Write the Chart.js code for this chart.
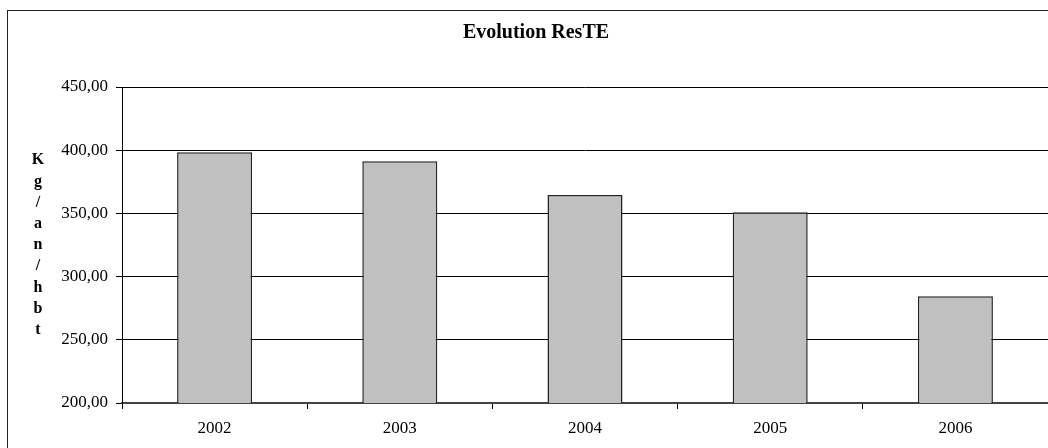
<!DOCTYPE html>
<html>
<head>
<meta charset="utf-8">
<script src="https://cdn.jsdelivr.net/npm/chart.js@4"></script>
<style>
  html, body { margin: 0; padding: 0; background: #fff; overflow: hidden; }
  #wrap { position: relative; width: 1048px; height: 448px; overflow: hidden; }
  #frame { position: absolute; left: 7px; top: 10px; width: 1100px; height: 500px; border: 1.5px solid #222; }
  canvas { position: absolute; left: 0; top: 0; }
</style>
</head>
<body>
<div id="wrap">
  <div id="frame"></div>
  <canvas id="chart" width="1048" height="448"></canvas>
</div>
<script>
const years = ['2002', '2003', '2004', '2005', '2006'];
const resteValues = [398.3, 391.2, 364.6, 350.9, 284.5];
const chartTitle = 'Evolution ResTE';
const yAxisLetters = ['K', 'g', '/', 'a', 'n', '/', 'h', 'b', 't'];
const yMin = 200, yMax = 450, yStep = 50;

const serif = '"Liberation Serif", "Times New Roman", serif';

// the original frame runs past the right edge, so the title sits right of the canvas centre;
// drawn here along with the stacked Excel-style axis title
const excelTexts = {
  id: 'excelTexts',
  afterDraw(chart) {
    const { ctx, chartArea } = chart;
    ctx.save();
    ctx.fillStyle = '#000';
    ctx.textAlign = 'center';
    ctx.textBaseline = 'middle';

    ctx.font = 'bold 20px ' + serif;
    ctx.fillText(chartTitle, 536, 33);

    const step = 21.2;
    const mid = (chartArea.top + chartArea.bottom) / 2;
    const start = mid - step * (yAxisLetters.length - 1) / 2;
    ctx.font = 'bold 16px ' + serif;
    yAxisLetters.forEach((ch, i) => ctx.fillText(ch, 38, start + i * step));
    ctx.restore();
  }
};

new Chart(document.getElementById('chart'), {
  type: 'bar',
  data: {
    labels: years,
    datasets: [{
      data: resteValues,
      backgroundColor: '#C0C0C0',
      borderColor: '#222',
      borderWidth: 1.5,
      borderSkipped: false,
      barPercentage: 0.405,
      categoryPercentage: 1
    }]
  },
  options: {
    responsive: false,
    animation: false,
    layout: { padding: { left: 0, right: 0, top: 87, bottom: 0 } },
    plugins: {
      legend: { display: false },
      tooltip: { enabled: false },
      title: { display: false }
    },
    scales: {
      x: {
        afterFit: (s) => { s.height = 45; },
        grid: { offset: true, drawOnChartArea: false, tickLength: 6, color: '#000' },
        border: { color: '#444', width: 2 },
        ticks: { color: '#000', padding: 9, font: { family: serif, size: 17 } }
      },
      y: {
        min: yMin,
        max: yMax,
        afterFit: (s) => { s.width = 122; },
        grid: { color: '#000', lineWidth: 1, tickLength: 6 },
        border: { color: '#000', width: 1 },
        ticks: {
          stepSize: yStep,
          color: '#000',
          padding: 8,
          font: { family: serif, size: 17 },
          callback: (v) => v.toFixed(2).replace('.', ',')
        }
      }
    }
  },
  plugins: [excelTexts]
});
</script>
</body>
</html>
